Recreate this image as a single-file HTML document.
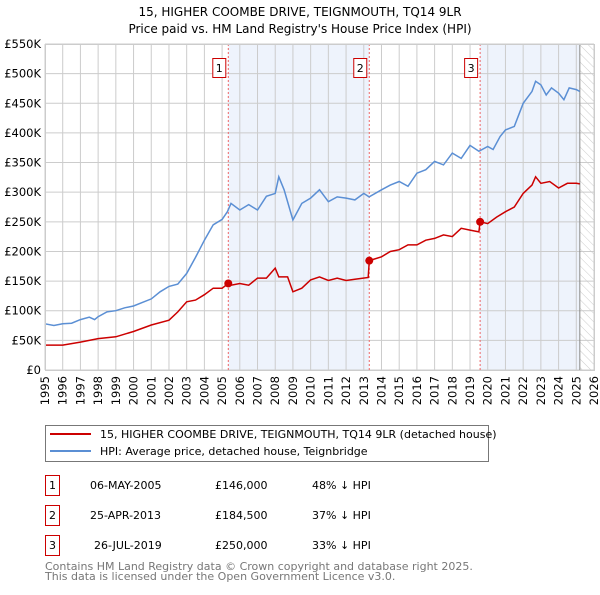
<!DOCTYPE html>
<html><head><meta charset="utf-8"><style>
body{margin:0;background:#fff;font-family:"Liberation Sans","DejaVu Sans",sans-serif;}
svg text{font-family:"DejaVu Sans","Liberation Sans",sans-serif;}
</style></head><body>
<svg width="600" height="590" xmlns="http://www.w3.org/2000/svg">
<defs><pattern id="hatch" width="6" height="6" patternUnits="userSpaceOnUse" patternTransform="rotate(-45)"><line x1="0" y1="0" x2="0" y2="6" stroke="#ccc" stroke-width="1"/></pattern></defs>
<text x="300" y="16" text-anchor="middle" font-size="12" fill="#000">15, HIGHER COOMBE DRIVE, TEIGNMOUTH, TQ14 9LR</text>
<text x="300" y="33" text-anchor="middle" font-size="12" fill="#000">Price paid vs. HM Land Registry's House Price Index (HPI)</text>
<g id="plot"></g>
<g>
<rect x="45.5" y="425.5" width="443" height="36" fill="#fff" stroke="#777"/>
<line x1="50" y1="434" x2="91" y2="434" stroke="#cc0000" stroke-width="2"/>
<text x="100" y="438" font-size="11">15, HIGHER COOMBE DRIVE, TEIGNMOUTH, TQ14 9LR (detached house)</text>
<line x1="50" y1="451" x2="91" y2="451" stroke="#5b8fd4" stroke-width="2"/>
<text x="100" y="455" font-size="11">HPI: Average price, detached house, Teignbridge</text>
</g>
<g font-size="11">
<rect x="45.5" y="475.5" width="14" height="20" fill="#fff" stroke="#cc0000"/><text x="49" y="489">1</text>
<text x="90" y="489">06-MAY-2005</text><text x="215" y="489">£146,000</text><text x="312" y="489">48% ↓ HPI</text>
<rect x="45.5" y="505.5" width="14" height="20" fill="#fff" stroke="#cc0000"/><text x="49" y="519">2</text>
<text x="90" y="519">25-APR-2013</text><text x="215" y="519">£184,500</text><text x="312" y="519">37% ↓ HPI</text>
<rect x="45.5" y="535.5" width="14" height="20" fill="#fff" stroke="#cc0000"/><text x="49" y="549">3</text>
<text x="94" y="549">26-JUL-2019</text><text x="215" y="549">£250,000</text><text x="312" y="549">33% ↓ HPI</text>
</g>
<text x="45" y="570" font-size="11" fill="#777">Contains HM Land Registry data © Crown copyright and database right 2025.</text>
<text x="45" y="580" font-size="11" fill="#777">This data is licensed under the Open Government Licence v3.0.</text>
</svg>
<script>
const yTicks=[0,50,100,150,200,250,300,350,400,450,500,550];
const yTickLabels=["£0","£50K","£100K","£150K","£200K","£250K","£300K","£350K","£400K","£450K","£500K","£550K"];
const xYears=[1995,1996,1997,1998,1999,2000,2001,2002,2003,2004,2005,2006,2007,2008,2009,2010,2011,2012,2013,2014,2015,2016,2017,2018,2019,2020,2021,2022,2023,2024,2025,2026];
const hpiDates=[1995,1995.5,1996,1996.5,1997,1997.5,1997.8,1998,1998.5,1999,1999.5,2000,2000.5,2001,2001.5,2002,2002.5,2003,2003.5,2004,2004.5,2005,2005.3,2005.5,2006,2006.5,2007,2007.5,2008,2008.2,2008.5,2009,2009.5,2010,2010.5,2011,2011.5,2012,2012.5,2013,2013.3,2014,2014.5,2015,2015.5,2016,2016.5,2017,2017.5,2018,2018.5,2019,2019.5,2020,2020.3,2020.7,2021,2021.5,2022,2022.5,2022.7,2023,2023.3,2023.6,2024,2024.3,2024.6,2025,2025.2];
const hpiValues=[78,75,78,79,85,89,85,90,98,100,105,108,114,120,132,141,145,163,190,219,245,254,267,281,270,279,270,293,298,326,304,253,281,290,304,284,292,290,287,298,292,304,312,318,310,332,338,352,346,366,357,379,369,377,372,394,405,411,450,470,487,481,464,476,467,456,476,473,470];
const ppDates=[1995,1996,1997,1998,1999,2000,2001,2002,2002.5,2003,2003.5,2004,2004.5,2005,2005.35,2005.5,2006,2006.5,2007,2007.5,2008,2008.2,2008.7,2009,2009.5,2010,2010.5,2011,2011.5,2012,2012.5,2013.25,2013.31,2014,2014.5,2015,2015.5,2016,2016.5,2017,2017.5,2018,2018.5,2019,2019.5,2019.57,2020,2020.5,2021,2021.5,2022,2022.5,2022.7,2023,2023.5,2024,2024.5,2025,2025.2];
const ppValues=[42,42,47,53,56,65,76,84,98,115,118,127,138,138,146,143,146,143,155,155,172,157,157,132,138,152,157,151,155,151,153,156,184.5,191,200,203,211,211,219,222,228,225,239,236,233,250,247,258,267,275,298,312,326,315,318,307,315,315,314];
const saleDates=[2005.35,2013.31,2019.57];
const saleValues=[146,184.5,250];
const saleLabels=["1","2","3"];
const L=45,R=594,T=44,B=370,X0=1995,X1=2026,YMAX=550,DATA_END=2025.2;
const sx=v=>L+(v-X0)/(X1-X0)*(R-L);
const sy=v=>B-v/YMAX*(B-T);
const NS="http://www.w3.org/2000/svg";
const g=document.getElementById('plot');


function el(tag,attrs,parent){const e=document.createElementNS(NS,tag);for(const k in attrs)e.setAttribute(k,attrs[k]);(parent||g).appendChild(e);return e;}
// shading
let s1=el('rect',{x:sx(saleDates[0]),y:T,width:sx(saleDates[1])-sx(saleDates[0]),height:B-T,fill:'#eef3fc'});


let s2=el('rect',{x:sx(saleDates[2]),y:T,width:sx(DATA_END)-sx(saleDates[2]),height:B-T,fill:'#eef3fc'});


let h=el('rect',{x:sx(DATA_END),y:T,width:R-sx(DATA_END),height:B-T,fill:'url(#hatch)'});


// grid
yTicks.forEach((v,i)=>{
 let l=el('line',{x1:L,x2:R,y1:sy(v),y2:sy(v),stroke:'#ccc','stroke-width':1});
 
 
 let t=el('text',{x:L-4,y:sy(v)+4,'text-anchor':'end','font-size':11.5,fill:'#000'});
 t.textContent=yTickLabels[i];
 
 
});
xYears.forEach(y=>{
 let l=el('line',{x1:sx(y),x2:sx(y),y1:T,y2:B,stroke:'#ccc','stroke-width':1});
 
 
 let t=el('text',{x:0,y:0,'text-anchor':'end','font-size':11.5,transform:`translate(${sx(y)+4},${B+6}) rotate(-90)`});
 t.textContent=y;
 
 
});
let dl=el('line',{x1:sx(DATA_END),x2:sx(DATA_END),y1:T,y2:B,stroke:'#888','stroke-width':1});


// sale lines
saleDates.forEach((d,i)=>{
 let l=el('line',{x1:sx(d),x2:sx(d),y1:T,y2:B,stroke:'#e66','stroke-width':1,'stroke-dasharray':'2,2'});
 
 
 let r=el('rect',{x:sx(d)-15.5,y:58.5,width:13,height:19,fill:'#fff',stroke:'#cc0000'});
 
 
 let t=el('text',{x:sx(d)-9,y:72,'text-anchor':'middle','font-size':11});
 t.textContent=saleLabels[i];
 
 
});
const line=(xs,ys)=>xs.map((x,i)=>(i?'L':'M')+sx(x).toFixed(1)+','+sy(ys[i]).toFixed(1)).join('');
let hp=el('path',{d:line(hpiDates,hpiValues),fill:'none',stroke:'#5b8fd4','stroke-width':1.5});


let pp=el('path',{d:line(ppDates,ppValues),fill:'none',stroke:'#cc0000','stroke-width':1.5});


saleDates.forEach((d,i)=>{
 let c=el('circle',{cx:sx(d),cy:sy(saleValues[i]),r:4,fill:'#cc0000'});
 
 
});
let fr=el('rect',{x:L+.5,y:T+.5,width:R-L,height:B-T,fill:'none',stroke:'#ccc'});


</script>
</body></html>
